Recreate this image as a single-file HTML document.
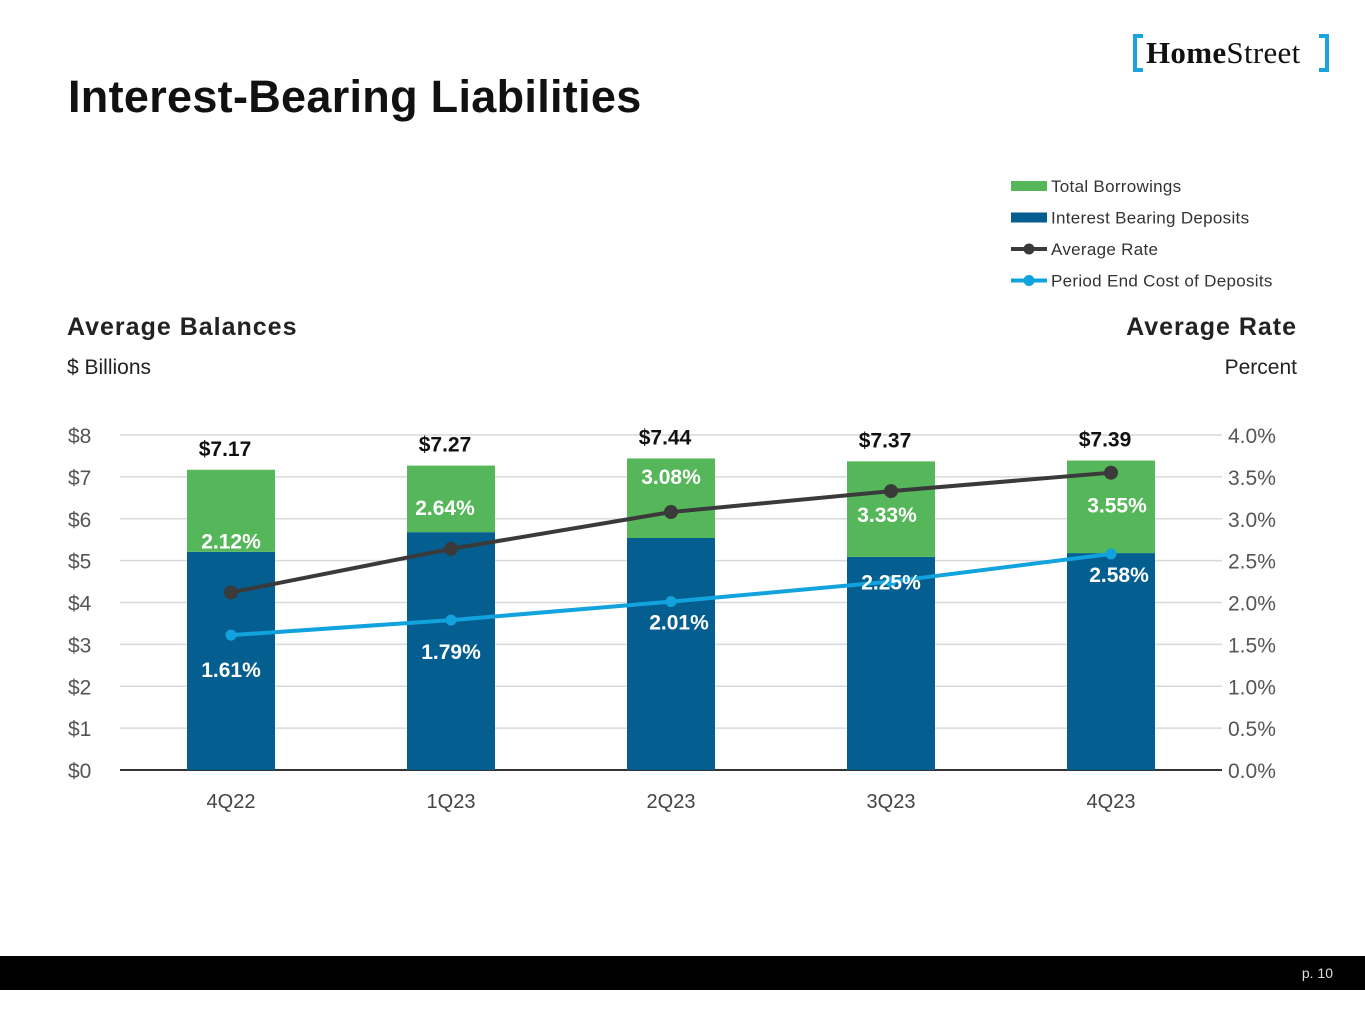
<!DOCTYPE html>
<html><head><meta charset="utf-8"><style>
body{margin:0;width:1365px;height:1024px;background:#fff;font-family:"Liberation Sans",sans-serif;position:relative;overflow:hidden}
.abs{position:absolute}
</style></head><body>
<div class="abs" style="left:1133px;top:30px;height:44px;width:200px">
 <div class="abs" style="left:0;top:4px;width:4px;height:38px;background:#1ba3e0"></div>
 <div class="abs" style="left:0;top:4px;width:10px;height:4px;background:#1ba3e0"></div>
 <div class="abs" style="left:0;top:38px;width:10px;height:4px;background:#1ba3e0"></div>
 <div class="abs" style="left:192px;top:4px;width:4px;height:38px;background:#1ba3e0"></div>
 <div class="abs" style="left:186px;top:4px;width:10px;height:4px;background:#1ba3e0"></div>
 <div class="abs" style="left:186px;top:38px;width:10px;height:4px;background:#1ba3e0"></div>
 <div class="abs" style="left:13px;top:5px;font-family:'Liberation Serif',serif;font-size:31px;color:#111;letter-spacing:0.3px"><b>Home</b>Street</div>
</div>
<div class="abs" style="left:68px;top:71px;font-size:45px;font-weight:bold;color:#111;letter-spacing:0.3px">Interest-Bearing Liabilities</div>
<div class="abs" style="left:67px;top:313px;font-size:25px;font-weight:bold;color:#222;letter-spacing:1px">Average Balances</div>
<div class="abs" style="left:67px;top:356px;font-size:21px;color:#222">$ Billions</div>
<div class="abs" style="right:68px;top:313px;font-size:25px;font-weight:bold;color:#222;letter-spacing:1px">Average Rate</div>
<div class="abs" style="right:68px;top:356px;font-size:21px;color:#222">Percent</div>
<div class="abs" style="left:0;top:956px;width:1365px;height:34px;background:#000"></div>
<div class="abs" style="right:32px;top:965px;font-size:14px;color:#ddd">p. 10</div>
<svg class="abs" style="left:0;top:0" width="1365" height="1024" id="chart" font-family="Liberation Sans, sans-serif"></svg>
<script>
const categories=["4Q22","1Q23","2Q23","3Q23","4Q23"];
const deposits=[5.21,5.68,5.54,5.09,5.18];
const totals=[7.17,7.27,7.44,7.37,7.39];
const avgRate=[2.12,2.64,3.08,3.33,3.55];
const costDeposits=[1.61,1.79,2.01,2.25,2.58];
const leftTicks=["$0","$1","$2","$3","$4","$5","$6","$7","$8"];
const rightTicks=["0.0%","0.5%","1.0%","1.5%","2.0%","2.5%","3.0%","3.5%","4.0%"];
const svg=document.getElementById('chart');const NS="http://www.w3.org/2000/svg";
function el(t,a,txt){const e=document.createElementNS(NS,t);for(const k in a)e.setAttribute(k,a[k]);if(txt!=null)e.textContent=txt;svg.appendChild(e);return e;}
const y0=770,y1=435;
const yL=v=>y0-(y0-y1)*v/8, yR=v=>y0-(y0-y1)*v/4, xC=i=>231+220*i;
for(let i=0;i<=8;i++){
 const g=el('line',{x1:120,x2:1222,y1:yL(i),y2:yL(i),stroke:i?'#d9d9d9':'#333','stroke-width':i?1.5:2});
 
 const t=el('text',{x:68,y:yL(i)+8,'font-size':21,fill:'#555'},leftTicks[i]);
 
 const r=el('text',{x:1228,y:yL(i)+8,'font-size':21,fill:'#555'},rightTicks[i]);
 
}
categories.forEach((c,i)=>{
 const x=xC(i);
 const b=el('rect',{x:x-44,y:yL(deposits[i]),width:88,height:y0-yL(deposits[i]),fill:'#045e8f'});
 
 const g=el('rect',{x:x-44,y:yL(totals[i]),width:88,height:yL(deposits[i])-yL(totals[i]),fill:'#56b75a'});
 
 const tl=el('text',{x:x-6,y:yL(totals[i])-14,'font-size':21,'font-weight':'bold',fill:'#111','text-anchor':'middle'},'$'+totals[i].toFixed(2));
 
 const xl=el('text',{x:x,y:808,'font-size':20,fill:'#444','text-anchor':'middle'},c);
 
});
function series(vals,color,name){
 const p=el('polyline',{points:vals.map((v,i)=>xC(i)+','+yR(v)).join(' '),fill:'none',stroke:color,'stroke-width':4});
 
 vals.forEach((v,i)=>{const c=el('circle',{cx:xC(i),cy:yR(v),r:name=='average-rate'?7:5.5,fill:color});
 });
}
series(avgRate,'#3a3a3a','average-rate');
series(costDeposits,'#11a3dd','cost-deposits');
const rOff=[[0,-44],[-6,-34],[0,-28],[-4,31],[6,40]];
avgRate.forEach((v,i)=>{const t=el('text',{x:xC(i)+rOff[i][0],y:yR(v)+rOff[i][1],'font-size':21,'font-weight':'bold',fill:'#fff','text-anchor':'middle'},v.toFixed(2)+'%');
 });
const cOff=[[0,42],[0,39],[8,28],[0,8],[8,28]];
costDeposits.forEach((v,i)=>{const t=el('text',{x:xC(i)+cOff[i][0],y:yR(v)+cOff[i][1],'font-size':21,'font-weight':'bold',fill:'#fff','text-anchor':'middle'},v.toFixed(2)+'%');
 });
const leg=[["Total Borrowings",'#56b75a','bar'],["Interest Bearing Deposits",'#045e8f','bar'],["Average Rate",'#3a3a3a','line'],["Period End Cost of Deposits",'#11a3dd','line']];
leg.forEach((l,i)=>{const y=186+31.5*i;
 if(l[2]=='bar'){const r=el('rect',{x:1011,y:y-5,width:36,height:10,fill:l[1]});}
 else{const r=el('line',{x1:1011,x2:1047,y1:y,y2:y,stroke:l[1],'stroke-width':4});el('circle',{cx:1029,cy:y,r:5.5,fill:l[1]});}
 const t=el('text',{x:1051,y:y+6,'font-size':17,fill:'#333','letter-spacing':0.3},l[0]);
});
</script>
</body></html>
